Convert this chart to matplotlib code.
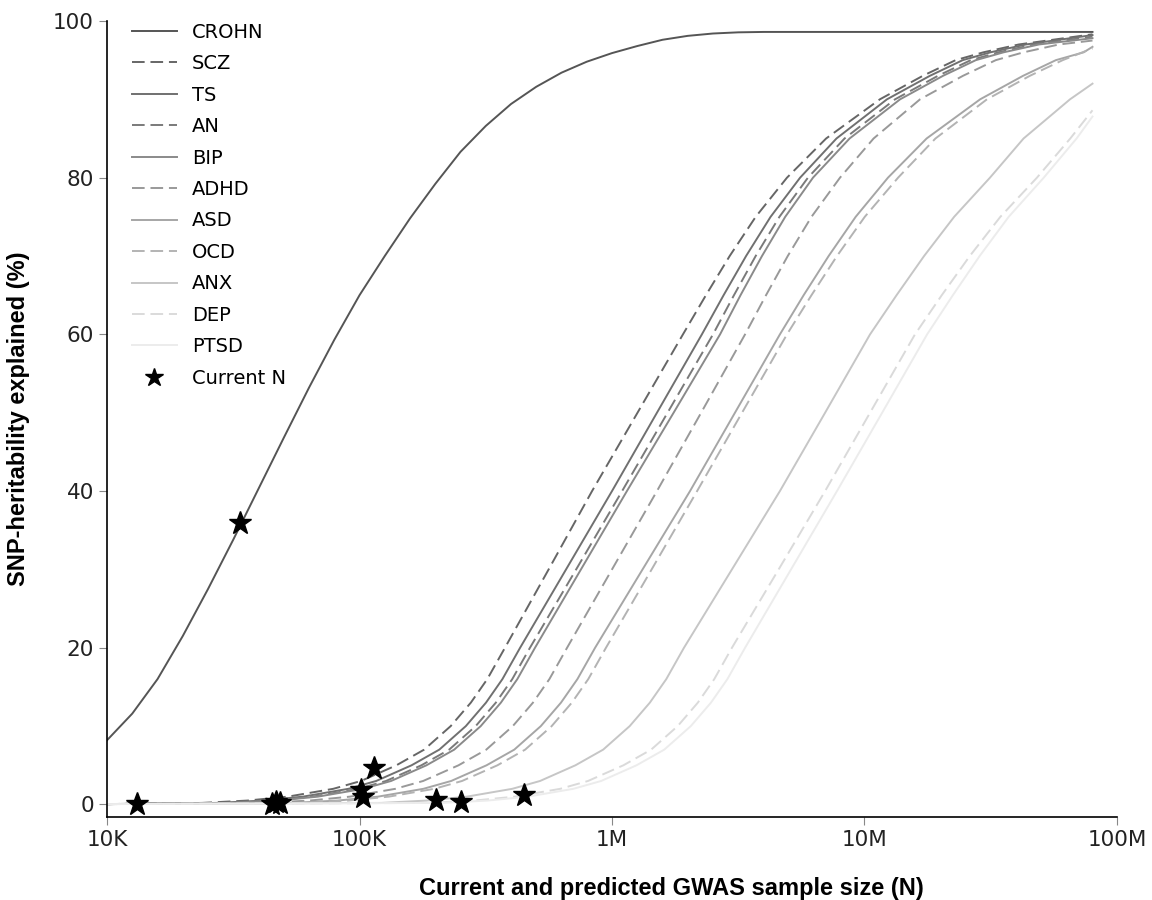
import matplotlib
matplotlib.use('Agg')
import matplotlib.pyplot as plt

# sample size as log10(N); value = SNP-heritability explained (%)
crohn_logn = [4.0, 4.1, 4.2, 4.3, 4.4, 4.5, 4.6, 4.7, 4.8, 4.9, 5.0, 5.1, 5.2, 5.3, 5.4, 5.5, 5.6, 5.7,
              5.8, 5.9, 6.0, 6.1, 6.2, 6.3, 6.4, 6.5, 6.6, 7.903]
crohn_h2 = [8.2, 11.6, 16.0, 21.5, 27.5, 33.8, 40.3, 46.8, 53.2, 59.3, 65.0, 70.0, 74.8, 79.2, 83.3, 86.6,
            89.4, 91.6, 93.4, 94.8, 95.9, 96.8, 97.6, 98.1, 98.4, 98.55, 98.6, 98.6]

# shared levels for the other curves (last value = end of curve at ~80M)
levels = [0.05, 0.2, 0.5, 1, 2, 3, 5, 7, 10, 13, 16, 20, 30, 40, 50, 60, 65, 70, 75, 80, 85, 90, 93, 95, 96, 97]

scz_logn = [4.0, 4.376, 4.556, 4.716, 4.896, 5.006, 5.146, 5.256, 5.361, 5.441, 5.506, 5.576, 5.749, 5.921,
            6.101, 6.281, 6.372, 6.466, 6.569, 6.693, 6.848, 7.061, 7.231, 7.361, 7.471, 7.611, 7.903]
scz_h2 = levels + [98.3]

ts_logn = [4.0, 4.436, 4.616, 4.776, 4.956, 5.066, 5.206, 5.316, 5.421, 5.501, 5.566, 5.636, 5.818, 6.000,
           6.178, 6.356, 6.442, 6.531, 6.628, 6.745, 6.889, 7.089, 7.259, 7.389, 7.499, 7.639, 7.903]
ts_h2 = levels + [98.2]

an_logn = [4.0, 4.475, 4.655, 4.815, 4.995, 5.105, 5.245, 5.355, 5.460, 5.540, 5.605, 5.675, 5.858, 6.040,
           6.220, 6.400, 6.483, 6.569, 6.663, 6.776, 6.921, 7.121, 7.291, 7.421, 7.531, 7.671, 7.903]
an_h2 = levels + [98.0]

bip_logn = [4.0, 4.495, 4.675, 4.835, 5.015, 5.125, 5.265, 5.375, 5.480, 5.560, 5.625, 5.695, 5.877, 6.059,
            6.244, 6.428, 6.509, 6.594, 6.686, 6.796, 6.941, 7.141, 7.311, 7.441, 7.551, 7.691, 7.903]
bip_h2 = levels + [97.8]

adhd_logn = [4.0, 4.622, 4.802, 4.962, 5.142, 5.252, 5.392, 5.502, 5.607, 5.687, 5.752, 5.822, 6.000, 6.178,
             6.353, 6.527, 6.610, 6.696, 6.790, 6.903, 7.036, 7.220, 7.390, 7.520, 7.630, 7.770, 7.903]
adhd_h2 = levels + [97.5]

asd_logn = [4.0, 4.733, 4.913, 5.073, 5.253, 5.363, 5.503, 5.613, 5.718, 5.798, 5.863, 5.933, 6.121, 6.309,
            6.487, 6.665, 6.759, 6.858, 6.965, 7.093, 7.246, 7.458, 7.628, 7.758, 7.868, 7.903]
asd_h2 = levels[:25] + [96.7]

ocd_logn = [4.0, 4.776, 4.956, 5.116, 5.296, 5.406, 5.546, 5.656, 5.761, 5.841, 5.906, 5.976, 6.157, 6.337,
            6.515, 6.693, 6.790, 6.891, 7.001, 7.133, 7.281, 7.485, 7.655, 7.785, 7.903]
ocd_h2 = levels[:24] + [96.5]

anx_logn = [4.0, 5.085, 5.265, 5.425, 5.605, 5.715, 5.855, 5.965, 6.070, 6.150, 6.215, 6.285, 6.475, 6.665,
            6.844, 7.022, 7.127, 7.236, 7.355, 7.497, 7.630, 7.814, 7.903]
anx_h2 = levels[:22] + [92.0]

dep_logn = [4.0, 5.275, 5.455, 5.615, 5.795, 5.905, 6.045, 6.155, 6.260, 6.340, 6.405, 6.475, 6.660, 6.844,
            7.022, 7.200, 7.306, 7.417, 7.538, 7.683, 7.815, 7.903]
dep_h2 = levels[:21] + [88.6]

ptsd_logn = [4.0, 5.327, 5.507, 5.667, 5.847, 5.957, 6.097, 6.207, 6.312, 6.392, 6.457, 6.527, 6.709, 6.891,
             7.070, 7.248, 7.350, 7.456, 7.571, 7.710, 7.840, 7.903]
ptsd_h2 = levels[:21] + [87.8]

# current GWAS sample sizes
current_n = [13200, 33600, 45000, 46700, 48400, 101000, 103000, 114000, 201000, 252000, 448000]
current_h2 = [0.1, 35.9, 0.1, 0.3, 0.25, 1.8, 0.9, 4.7, 0.6, 0.3, 1.15]

series = [
    ('CROHN', crohn_logn, crohn_h2, '#555555', 'solid'),
    ('SCZ', scz_logn, scz_h2, '#666666', 'dashed'),
    ('TS', ts_logn, ts_h2, '#707070', 'solid'),
    ('AN', an_logn, an_h2, '#7a7a7a', 'dashed'),
    ('BIP', bip_logn, bip_h2, '#8a8a8a', 'solid'),
    ('ADHD', adhd_logn, adhd_h2, '#999999', 'dashed'),
    ('ASD', asd_logn, asd_h2, '#a6a6a6', 'solid'),
    ('OCD', ocd_logn, ocd_h2, '#b3b3b3', 'dashed'),
    ('ANX', anx_logn, anx_h2, '#c6c6c6', 'solid'),
    ('DEP', dep_logn, dep_h2, '#dadada', 'dashed'),
    ('PTSD', ptsd_logn, ptsd_h2, '#ececec', 'solid'),
]

fig = plt.figure(figsize=(11.52, 9), dpi=100)
ax = fig.add_axes([0.0929, 0.0922, 0.8767, 0.8845])

for name, logn, h2, col, ls in series:
    n = [10 ** v for v in logn]
    if ls == 'dashed':
        ax.plot(n, h2, color=col, lw=1.4, dashes=(6.5, 3), label=name)
    else:
        ax.plot(n, h2, color=col, lw=1.4, label=name)

ax.plot(current_n, current_h2, linestyle='none', marker='*', ms=17, color='black',
        label='Current N', zorder=5)

ax.set_xscale('log')
ax.set_xlim(1e4, 1e8)
ax.set_ylim(-1.6, 100)
ax.set_xticks([1e4, 1e5, 1e6, 1e7, 1e8])
ax.set_xticklabels(['10K', '100K', '1M', '10M', '100M'])
ax.xaxis.set_minor_locator(matplotlib.ticker.NullLocator())
ax.set_yticks([0, 20, 40, 60, 80, 100])

ax.spines['top'].set_visible(False)
ax.spines['right'].set_visible(False)
ax.spines['left'].set_linewidth(1.2)
ax.spines['bottom'].set_linewidth(1.2)
ax.tick_params(axis='both', which='major', labelsize=15.5, length=6, color='#888888',
               labelcolor='#222222')

ax.set_xlabel('Current and predicted GWAS sample size (N)', fontname='Liberation Sans',
              fontweight='bold', fontsize=17)
ax.xaxis.set_label_coords(0.559, -0.075)
ax.set_ylabel('SNP-heritability explained (%)', fontname='Liberation Sans',
              fontweight='bold', fontsize=17)
ax.yaxis.set_label_coords(-0.076, 0.5)

ax.legend(loc='upper left', bbox_to_anchor=(0.017, 1.0075), frameon=False, fontsize=14,
          handlelength=2.3, handletextpad=0.8, labelspacing=0.64, borderaxespad=0,
          markerscale=0.8)

fig.savefig('out.png', dpi=100)
